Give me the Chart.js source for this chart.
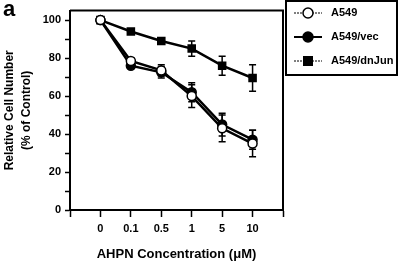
<!DOCTYPE html>
<html><head><meta charset="utf-8">
<script src="https://cdn.jsdelivr.net/npm/chart.js@4/dist/chart.umd.min.js"></script>
<style>html,body{margin:0;padding:0;background:#fff}#wrap{width:400px;height:262px;position:relative}</style>
</head><body><div id="wrap"><canvas id="c" width="400" height="262"></canvas></div>
<script>
const categories = ['0', '0.1', '0.5', '1', '5', '10'];
const a549 = [100, 78.5, 73.5, 60, 43, 35];
const a549Err = [0, 1.5, 3, 6, 7, 7];
const vec = [100, 76, 72.5, 62, 45, 37];
const vecErr = [0, 1.5, 3, 5, 6, 5];
const dnjun = [100, 94, 89, 85, 76, 69.5];
const dnjunErr = [0, 1, 1.5, 4, 5, 7];
const yTicks = [0, 20, 40, 60, 80, 100];
const seriesNames = ['A549', 'A549/vec', 'A549/dnJun'];

const FONT = "'Liberation Sans', Arial, Helvetica, sans-serif";
const toPts = arr => arr.map((v, i) => ({x: i, y: v}));
const errs = [a549Err, vecErr, dnjunErr];

const extras = {
  id: 'extras',
  beforeDatasetsDraw(chart) {
    const ctx = chart.ctx, xs = chart.scales.x, ys = chart.scales.y;
    ctx.save();
    ctx.strokeStyle = '#000'; ctx.lineWidth = 1.5;
    chart.data.datasets.forEach((ds, di) => {
      ds.data.forEach((p, i) => {
        const e = errs[di][i];
        if (!e) return;
        const px = xs.getPixelForValue(p.x);
        const y1 = ys.getPixelForValue(p.y + e), y2 = ys.getPixelForValue(p.y - e);
        ctx.beginPath();
        ctx.moveTo(px, y1); ctx.lineTo(px, y2);
        ctx.moveTo(px - 3.5, y1); ctx.lineTo(px + 3.5, y1);
        ctx.moveTo(px - 3.5, y2); ctx.lineTo(px + 3.5, y2);
        ctx.stroke();
      });
    });
    ctx.restore();
  },
  afterDraw(chart) {
    const ctx = chart.ctx, a = chart.chartArea;
    ctx.save();
    ctx.strokeStyle = '#000'; ctx.lineWidth = 2;
    ctx.beginPath();
    ctx.moveTo(a.left, a.top); ctx.lineTo(a.right, a.top); ctx.lineTo(a.right, a.bottom);
    ctx.stroke();
    ctx.fillStyle = '#000';
    ctx.font = 'bold 22px ' + FONT;
    ctx.textBaseline = 'alphabetic';
    ctx.fillText('a', 3, 16);
    ctx.lineWidth = 2;
    ctx.strokeRect(286, 1, 111, 74);
    const ys = [13, 37, 61];
    ctx.font = 'bold 11px ' + FONT;
    ctx.textBaseline = 'middle';
    ys.forEach((y, i) => {
      ctx.lineWidth = i === 1 ? 2 : 1;
      ctx.setLineDash(i === 1 ? [] : [2, 1]);
      ctx.beginPath(); ctx.moveTo(294, y); ctx.lineTo(322, y); ctx.stroke();
      ctx.setLineDash([]);
      ctx.lineWidth = 1.5;
      if (i === 2) {
        ctx.fillRect(303, y - 5, 10, 10);
      } else {
        ctx.beginPath(); ctx.arc(308, y, 5, 0, Math.PI * 2);
        ctx.fillStyle = i === 0 ? '#fff' : '#000';
        ctx.fill(); ctx.stroke();
        ctx.fillStyle = '#000';
      }
      ctx.fillText(seriesNames[i], 331, y);
    });
    ctx.restore();
  }
};

const common = {borderColor: '#000', borderWidth: 2.5, pointBorderColor: '#000', pointBorderWidth: 1.5, showLine: true, tension: 0};

new Chart(document.getElementById('c'), {
  type: 'scatter',
  data: {
    datasets: [
      Object.assign({label: seriesNames[0], data: toPts(a549), pointStyle: 'circle', pointRadius: 4.5, pointBackgroundColor: '#fff'}, common),
      Object.assign({label: seriesNames[1], data: toPts(vec), pointStyle: 'circle', pointRadius: 4.5, pointBackgroundColor: '#000'}, common),
      Object.assign({label: seriesNames[2], data: toPts(dnjun), pointStyle: 'rect', pointRadius: 5, pointBackgroundColor: '#000'}, common)
    ]
  },
  options: {
    responsive: false, animation: false, events: [],
    layout: {padding: {top: 2, right: 117, left: 0, bottom: 0}},
    plugins: {legend: {display: false}, tooltip: {enabled: false}},
    scales: {
      x: {
        type: 'linear', min: -1, max: 6,
        afterBuildTicks: s => { s.ticks = [-1,0,1,2,3,4,5,6].map(v => ({value: v})); },
        afterFit: s => { s.height = 52; },
        ticks: {color: '#000', font: {family: FONT, weight: 'bold', size: 11}, padding: 5,
          callback: v => (v >= 0 && v < categories.length) ? categories[v] : '', maxRotation: 0, autoSkip: false},
        grid: {drawOnChartArea: false, color: '#000', tickLength: 7, tickWidth: 1.5},
        border: {color: '#000', width: 2},
        title: {display: true, text: 'AHPN Concentration (\u03bcM)', color: '#000', font: {family: FONT, weight: 'bold', size: 13}, padding: {top: 8, bottom: 0}}
      },
      y: {
        min: 0, max: 105,
        afterBuildTicks: s => { s.ticks = [0,10,20,30,40,50,60,70,80,90,100].map(v => ({value: v})); },
        afterFit: s => { s.width = 70; },
        ticks: {color: '#000', font: {family: FONT, weight: 'bold', size: 11}, padding: 4,
          callback: v => yTicks.includes(v) ? String(v) : ''},
        grid: {drawOnChartArea: false, color: '#000', tickLength: 5, tickWidth: 1.5},
        border: {color: '#000', width: 2},
        title: {display: true, text: ['Relative Cell Number', '(% of Control)'], color: '#000', font: {family: FONT, weight: 'bold', size: 12, lineHeight: 1.35}, padding: {top: 2, bottom: 0}}
      }
    }
  },
  plugins: [extras]
});
</script></body></html>
